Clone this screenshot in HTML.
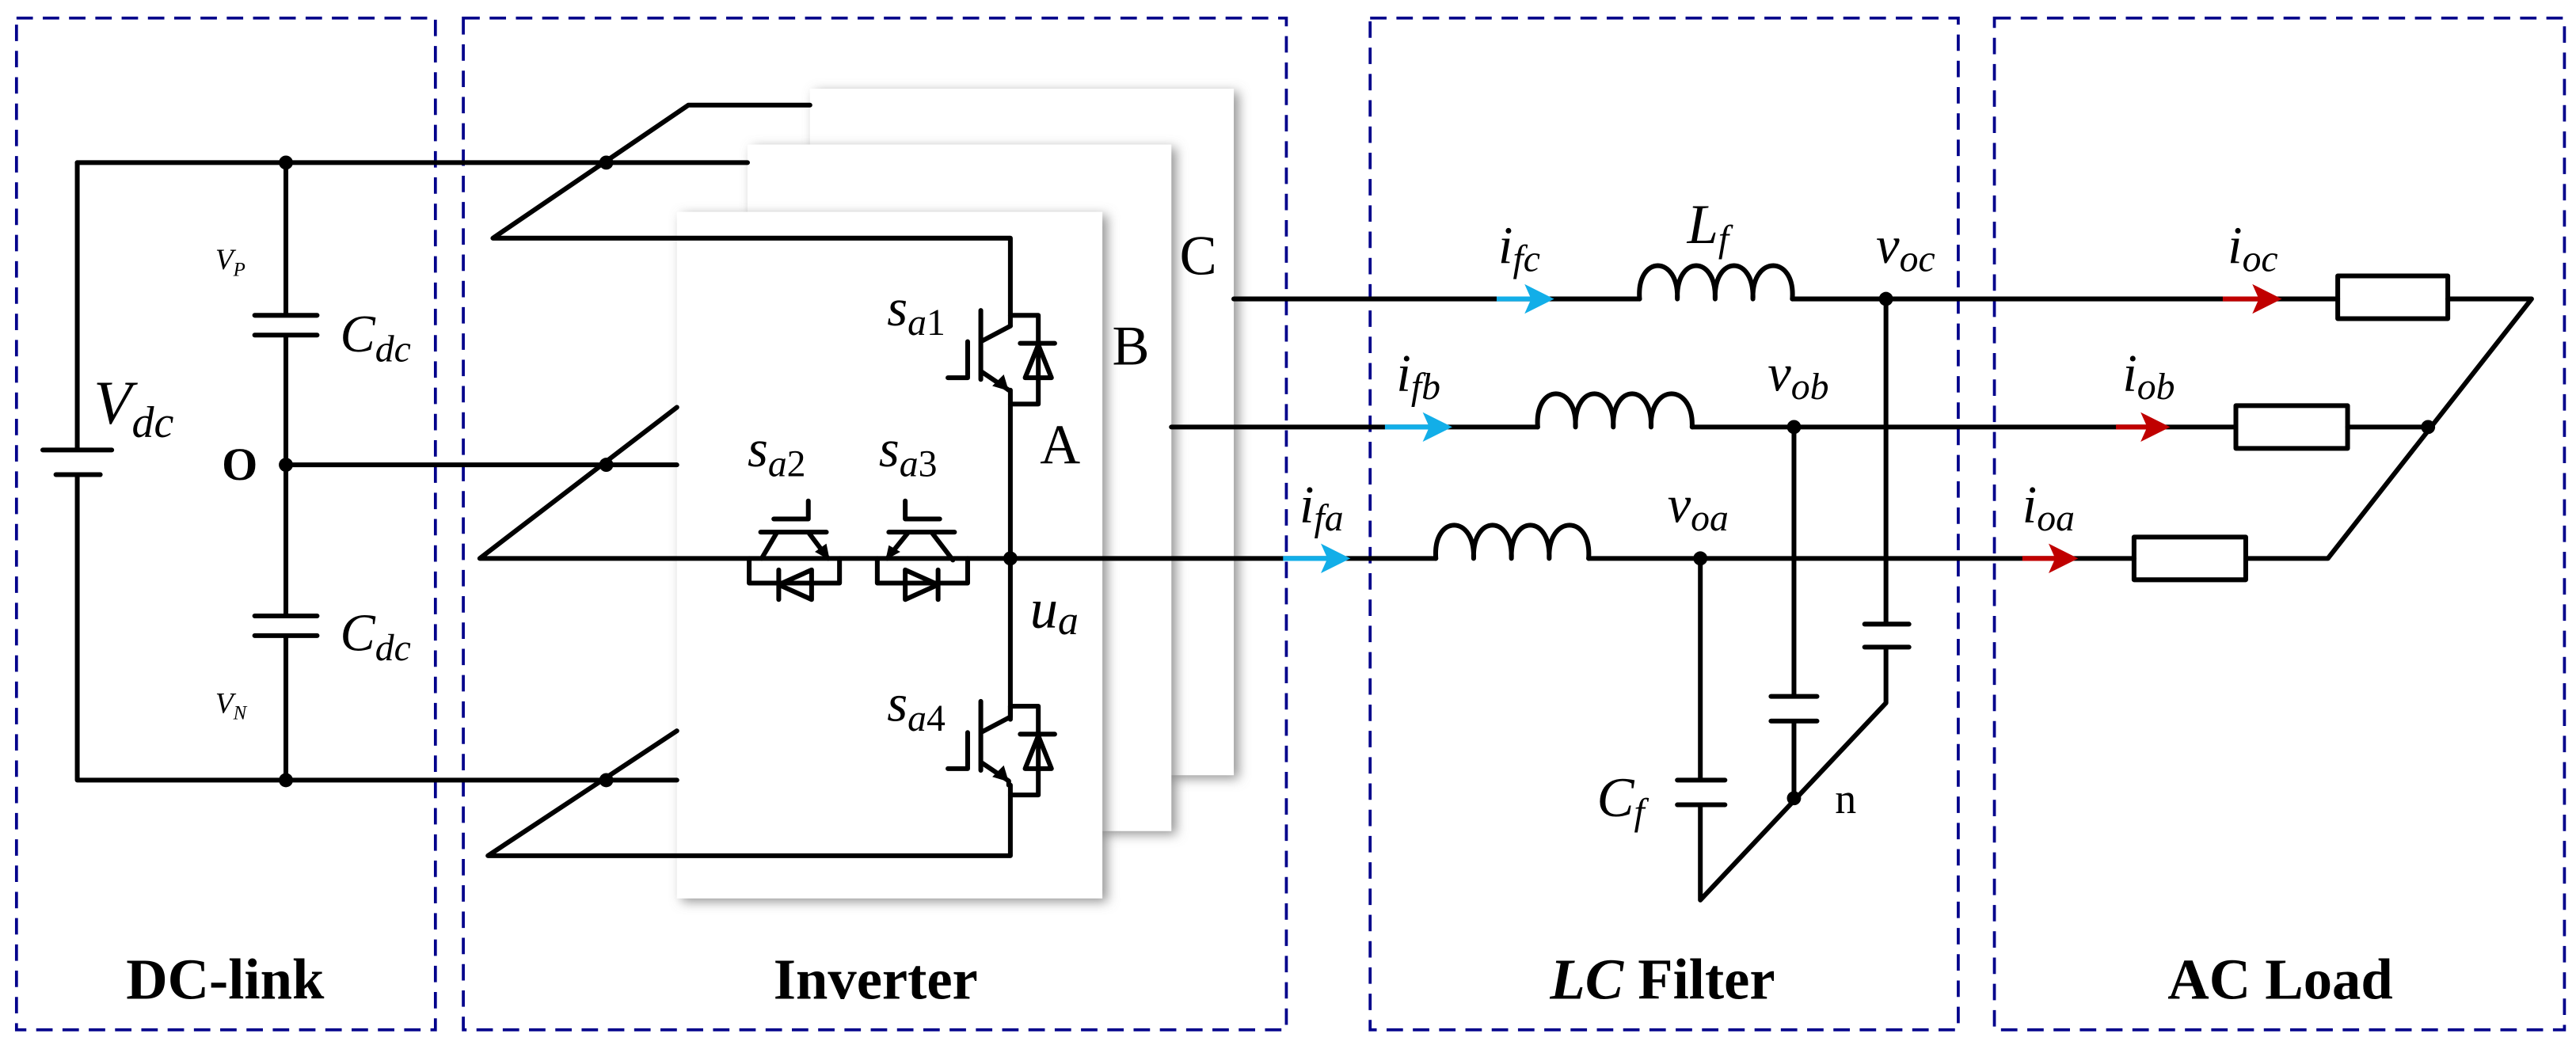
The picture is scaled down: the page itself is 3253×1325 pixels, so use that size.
<!DOCTYPE html>
<html><head><meta charset="utf-8"><style>
html,body{margin:0;padding:0;background:#fff;}
svg{display:block;}
text{font-family:"Liberation Serif",serif;}
</style></head><body>
<svg width="3253" height="1325" viewBox="0 0 1568 638.7" xmlns="http://www.w3.org/2000/svg">
<defs>
<filter id="sh" x="-10%" y="-10%" width="130%" height="130%">
<feDropShadow dx="3" dy="2" stdDeviation="3.5" flood-color="#888" flood-opacity="0.9"/>
</filter>
</defs>
<rect width="1568" height="638.7" fill="#fff"/>
<g fill="none" stroke="#00008b" stroke-width="1.8" stroke-dasharray="10,6">
<rect x="10" y="11" width="255" height="616"/>
<rect x="282" y="11" width="501" height="616"/>
<rect x="834" y="11" width="358" height="616"/>
<rect x="1214" y="11" width="347" height="616"/>
</g>
<rect x="493" y="54" width="258" height="418" fill="#fff" filter="url(#sh)"/>
<rect x="455" y="88" width="258" height="418" fill="#fff" filter="url(#sh)"/>
<rect x="412" y="129" width="259" height="418" fill="#fff" filter="url(#sh)"/>

<g stroke="#000" stroke-width="2.9" fill="none" stroke-linecap="round" stroke-linejoin="round">
<path d="M47 99 H455"/>
<path d="M47 99 V274 M26 274 H68 M34 289 H61 M47 289 V475 H412"/>
<path d="M174 99 V192 M155 192 H193 M155 204 H193 M174 204 V375 M155 375 H193 M155 387 H193 M174 387 V475"/>
<path d="M174 283 H412"/>
<path d="M493 64 H419 L300 145 H615 V198.5"/>
<path d="M412 248 L292 340 H615"/>
<path d="M412 445 L297 521 H615 V478"/>
<path d="M615 198.5 L597 208 M597 189 V231 M589 208 V230 M577 230 H589 M597 226 L614 237.5 M615 237.5 V340"/>
<path d="M615 192 H632 V246 H615"/>
<path d="M621 209 H642 M624 230 H640 L632 210 Z"/>
<g transform="translate(0,238)">
<path d="M615 192 V198.5 L597 208 M597 189 V231 M589 208 V230 M577 230 H589 M597 226 L614 237.5 V240"/>
<path d="M615 192 H632 V246 H615"/>
<path d="M621 209 H642 M624 230 H640 L632 210 Z"/>
</g>
<path d="M615 340 V438"/>
<path d="M463 324 H503 M463.6 340 L473 324 M492 324 L504 340 M471 316 H492 V305"/>
<path d="M456 340 V355 H511 V340"/>
<path d="M474 347 V365 M494 347 V365 L474 356 Z"/>
<path d="M541 324 H581 M540 340 L553 324 M567 324 L580 341 M551 305 V316 H572"/>
<path d="M534 340 V355 H589 V340"/>
<path d="M571 347 V365 M551 347 V365 L571 356 Z"/>
<path d="M751 182 H998 M1091 182 H1423 M1490 182 H1541 L1417 340 H1367"/>
<path d="M713 260 H936 M1030 260 H1361 M1429 260 H1478"/>
<path d="M615 340 H874 M967 340 H1299"/>
<path d="M998 182 c-2 -27 24 -27 23 0 c-1 -27 24 -27 23 0 c-1 -27 24 -27 23 0 c-1 -27 26 -27 24 0"/>
<path d="M936 260 c-2 -27 24 -27 23 0 c-1 -27 24 -27 23 0 c-1 -27 24 -27 23 0 c-1 -27 26 -27 25 0"/>
<path d="M874 340 c-2 -27 24 -27 23 0 c-1 -27 24 -27 23 0 c-1 -27 24 -27 23 0 c-1 -27 26 -27 24 0"/>
<rect x="1423" y="168" width="67" height="26"/>
<rect x="1361" y="247" width="68" height="26"/>
<rect x="1299" y="327" width="68" height="26"/>
<path d="M1148 182 V380 M1135 380 H1162 M1135 394 H1162 M1148 394 V428 L1035 548 V490 M1021 490 H1050 M1021 475 H1050 M1035 475 V340"/>
<path d="M1092 260 V424 M1078 424 H1106 M1078 439 H1106 M1092 439 V486"/>
</g>
<g fill="#000">
<circle cx="174" cy="99" r="4.3"/><circle cx="369" cy="99" r="4.3"/>
<circle cx="174" cy="283" r="4.3"/><circle cx="369" cy="283" r="4.3"/>
<circle cx="174" cy="475" r="4.3"/><circle cx="369" cy="475" r="4.3"/>
<circle cx="615" cy="340" r="4.3"/>
<circle cx="1148" cy="182" r="4.3"/><circle cx="1092" cy="260" r="4.3"/><circle cx="1035" cy="340" r="4.3"/>
<circle cx="1092" cy="486" r="4.3"/><circle cx="1478" cy="260" r="4.3"/>
<path d="M614 238 L604 235 L611 228 Z"/>
<path d="M614 476 L604 473 L611 466 Z"/>
<path d="M505 341 L496 336 L503 331 Z"/>
<path d="M539 341 L541 332 L548 336 Z"/>
</g>
<g stroke-width="3" fill="none">
<path d="M911 182 H935" stroke="#12aee8"/>
<path d="M843 260 H871" stroke="#12aee8"/>
<path d="M781 340 H810" stroke="#12aee8"/>
<path d="M1353 182 H1378" stroke="#c00000"/>
<path d="M1288 260 H1311" stroke="#c00000"/>
<path d="M1231 340 H1254" stroke="#c00000"/>
</g>
<g fill="#12aee8">
<path d="M946 182 L928 173 L932 182 L928 191 Z"/>
<path d="M884 260 L866 251 L870 260 L866 269 Z"/>
<path d="M822 340 L804 331 L808 340 L804 349 Z"/>
</g>
<g fill="#c00000">
<path d="M1389 182 L1371 173 L1375 182 L1371 191 Z"/>
<path d="M1321 260 L1303 251 L1307 260 L1303 269 Z"/>
<path d="M1265 340 L1247 331 L1251 340 L1247 349 Z"/>
</g>
<g font-style="italic" font-size="32" fill="#000">
<text x="57" y="258" font-size="38">V<tspan font-size="27" dy="8">dc</tspan></text>
<text x="131" y="164" font-size="18">V<tspan font-size="12" dy="4">P</tspan></text>
<text x="131" y="434" font-size="18">V<tspan font-size="12" dy="4">N</tspan></text>
<text x="207" y="214">C<tspan font-size="23" dy="6">dc</tspan></text>
<text x="207" y="396">C<tspan font-size="23" dy="6">dc</tspan></text>
<text x="540" y="198">s<tspan font-size="23" dy="6">a</tspan><tspan font-style="normal" font-size="23">1</tspan></text>
<text x="455" y="284">s<tspan font-size="23" dy="6">a</tspan><tspan font-style="normal" font-size="23">2</tspan></text>
<text x="535" y="284">s<tspan font-size="23" dy="6">a</tspan><tspan font-style="normal" font-size="23">3</tspan></text>
<text x="540" y="439">s<tspan font-size="23" dy="6">a</tspan><tspan font-style="normal" font-size="23">4</tspan></text>
<text x="627" y="382" font-size="34">u<tspan font-size="25" dy="4">a</tspan></text>
<text x="912" y="160">i<tspan font-size="23" dy="5">fc</tspan></text>
<text x="1027" y="148" font-size="34">L<tspan font-size="23" dy="5">f</tspan></text>
<text x="1142" y="160">v<tspan font-size="23" dy="5">oc</tspan></text>
<text x="850" y="238">i<tspan font-size="23" dy="5">fb</tspan></text>
<text x="1076" y="238">v<tspan font-size="23" dy="5">ob</tspan></text>
<text x="791" y="318">i<tspan font-size="23" dy="5">fa</tspan></text>
<text x="1015" y="318">v<tspan font-size="23" dy="5">oa</tspan></text>
<text x="972" y="497" font-size="34">C<tspan font-size="23" dy="5">f</tspan></text>
<text x="1356" y="160">i<tspan font-size="23" dy="5">oc</tspan></text>
<text x="1292" y="238">i<tspan font-size="23" dy="5">ob</tspan></text>
<text x="1231" y="318">i<tspan font-size="23" dy="5">oa</tspan></text>
</g>
<g font-size="34" fill="#000">
<text x="633" y="282">A</text>
<text x="677" y="222">B</text>
<text x="718" y="167">C</text>
<text x="1117" y="495" font-size="26">n</text>
<text x="135" y="292" font-weight="bold" font-size="28">O</text>
</g>
<g font-size="35" font-weight="bold" fill="#000" text-anchor="middle">
<text x="137" y="608">DC-link</text>
<text x="533" y="608">Inverter</text>
<text x="1012" y="608"><tspan font-style="italic">LC</tspan> Filter</text>
<text x="1388" y="608">AC Load</text>
</g>
</svg>
</body></html>
